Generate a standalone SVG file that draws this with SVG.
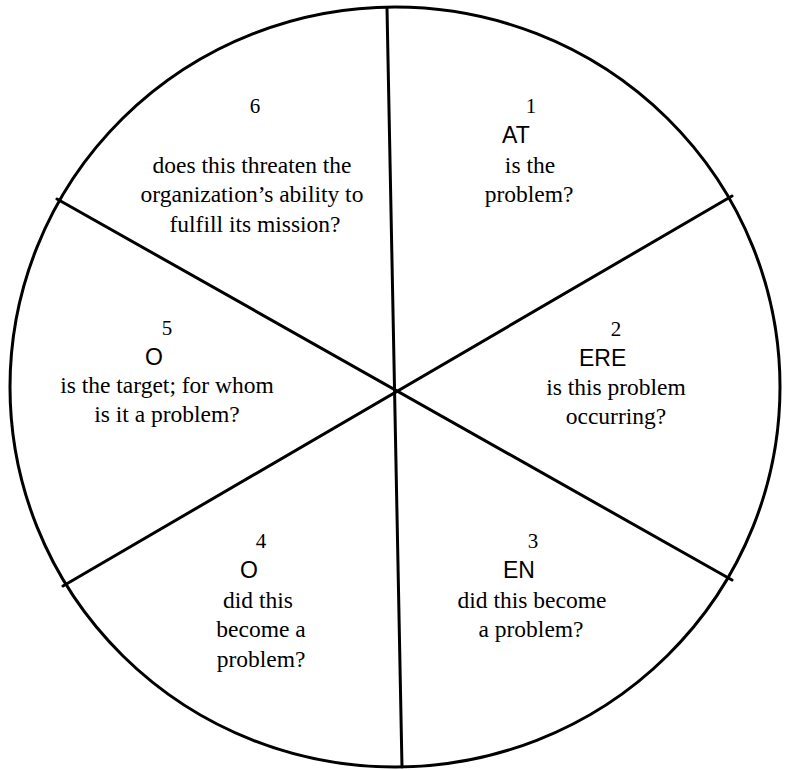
<svg xmlns="http://www.w3.org/2000/svg" width="787" height="770" viewBox="0 0 787 770">
<style>
.ln{stroke:#000;stroke-width:3;fill:none;stroke-linecap:round}
.num{font-family:"Liberation Serif","Times New Roman",serif;font-size:21px;fill:#000;text-anchor:middle}
.q{font-family:"Liberation Serif","Times New Roman",serif;font-size:23.5px;fill:#000;text-anchor:middle}
.k{font-family:"Liberation Sans",Arial,sans-serif;font-size:23px;fill:#000}
</style>
<rect width="787" height="770" fill="#fff"/>
<g id="wheel">
<ellipse class="ln" cx="395" cy="387" rx="385" ry="380"/>
</g>
<g id="connectors">
<line class="ln" x1="387" y1="8" x2="402" y2="767"/>
<line class="ln" x1="57" y1="199" x2="732" y2="580"/>
<line class="ln" x1="63" y1="586" x2="732" y2="196"/>
</g>
<g id="segment1">
<text class="num" x="531" y="113">1</text>
<text class="k" x="502" y="143">AT</text>
<text class="q" x="530" y="173">is the</text>
<text class="q" x="529" y="202">problem?</text>
</g>
<g id="segment2">
<text class="num" x="616" y="336">2</text>
<text class="k" x="579" y="366">ERE</text>
<text class="q" x="616" y="395">is this problem</text>
<text class="q" x="616" y="424">occurring?</text>
</g>
<g id="segment3">
<text class="num" x="533" y="548">3</text>
<text class="k" x="503" y="578">EN</text>
<text class="q" x="532" y="608">did this become</text>
<text class="q" x="531" y="637">a problem?</text>
</g>
<g id="segment4">
<text class="num" x="261" y="548">4</text>
<text class="k" x="240" y="578">O</text>
<text class="q" x="258" y="608">did this</text>
<text class="q" x="261" y="637">become a</text>
<text class="q" x="261" y="667">problem?</text>
</g>
<g id="segment5">
<text class="num" x="167" y="335">5</text>
<text class="k" x="145" y="365">O</text>
<text class="q" x="167" y="393">is the target; for whom</text>
<text class="q" x="167" y="422">is it a problem?</text>
</g>
<g id="segment6">
<text class="num" x="255" y="113">6</text>
<text class="q" x="252" y="173">does this threaten the</text>
<text class="q" x="252" y="202">organization’s ability to</text>
<text class="q" x="255" y="232">fulfill its mission?</text>
</g>
</svg>
